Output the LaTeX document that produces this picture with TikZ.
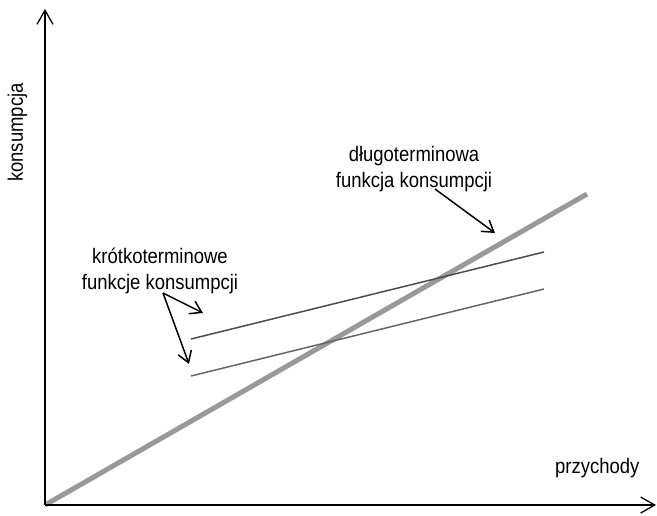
\documentclass[tikz,border=0pt]{standalone}
\usepackage{fontspec}
\setmainfont{Liberation Sans}[FakeStretch=0.88]
\usetikzlibrary{arrows.meta}
\begin{document}
\begin{tikzpicture}[x=1pt,y=-1pt,
  axis/.style={line width=1.3pt,-{Straight Barb[length=14pt,width=16pt,line width=1.3pt]}},
  callout/.style={line width=1.5pt,-{Straight Barb[length=11pt,width=14pt,line width=1.5pt]}},
  longrun/.style={line width=5pt,color=black!40},
  shortA/.style={line width=1.5pt,color=black!70},
  shortB/.style={line width=1.5pt,color=black!60},
  lbl/.style={font=\fontsize{21}{26}\selectfont,inner sep=0pt,align=center}]
\useasboundingbox (0,0) rectangle (657,515);
\coordinate (O) at (45,505);
\coordinate (ytop) at (45,9);
\coordinate (xend) at (656,505);
\coordinate (LRend) at (587,194);
\coordinate (SA1) at (191,339);
\coordinate (SA2) at (544,252);
\coordinate (SB1) at (191,376);
\coordinate (SB2) at (544,289);
% curves
\draw[longrun] (O) -- (LRend);
\draw[shortA] (SA1) -- (SA2);
\draw[shortB] (SB1) -- (SB2);
% axes
\draw[axis] (O) -- (ytop);
\draw[axis] (O) -- (xend);
% labels
\node[lbl,anchor=north] (short) at (160,248) {krótkoterminowe\\funkcje konsumpcji};
\node[lbl,anchor=north] (long) at (414,146) {długoterminowa\\funkcja konsumpcji};
\node[lbl,anchor=base west] (xlab) at (555,473) {przychody};
\node[lbl,anchor=base west,rotate=90] (ylab) at (23,182) {konsumpcja};
% callouts
\coordinate (sfrom) at (163,293);
\coordinate (sto1) at (203,313);
\coordinate (sto2) at (189,364);
\coordinate (lfrom) at (435,189);
\coordinate (lto) at (495,233);
\draw[callout] (sfrom) -- (sto1);
\draw[callout] (sfrom) -- (sto2);
\draw[callout] (lfrom) -- (lto);
\end{tikzpicture}
\end{document}
